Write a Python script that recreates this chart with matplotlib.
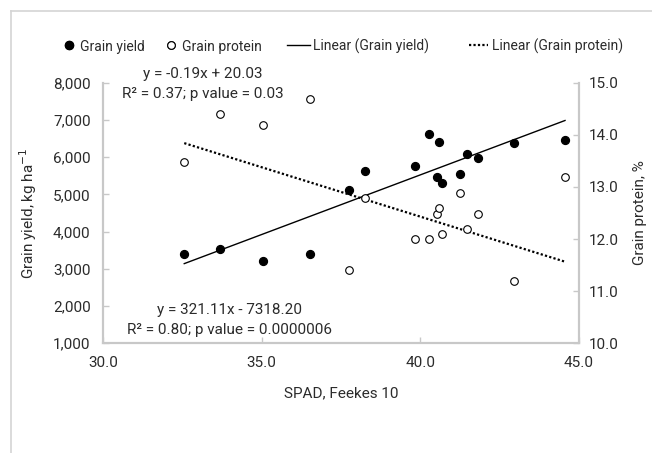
import numpy as np
import matplotlib.pyplot as plt
from matplotlib.lines import Line2D
from matplotlib.ticker import FuncFormatter, FormatStrFormatter

plt.rcParams['font.family'] = ['Roboto', 'DejaVu Sans']

# SPAD readings at Feekes 10 with grain yield and grain protein
spad = [32.56, 33.70, 35.05, 36.51, 37.75, 38.26, 39.84, 40.26,
        40.53, 40.58, 40.69, 41.26, 41.48, 41.83, 42.94, 44.56]
grain_yield = [3396, 3522, 3216, 3396, 5119, 5631, 5765, 6635,
               5478, 6411, 5317, 5550, 6088, 5981, 6394, 6465]
grain_protein = [13.49, 14.40, 14.19, 14.69, 11.40, 12.79, 12.00, 12.00,
                 12.49, 12.59, 12.09, 12.89, 12.20, 12.49, 11.20, 13.20]

# fitted trend lines (slope, intercept)
yield_fit = (321.11, -7318.20)
protein_fit = (-0.19, 20.03)

text_col = '#2b2b2b'
axis_col = '#c8c8c8'
W, H = 652, 453

fig = plt.figure(figsize=(W / 100, H / 100), dpi=100)
ax = fig.add_axes([0.158, 0.2428, 0.730, 0.574])
ax2 = ax.twinx()

# scatter points
ax.scatter(spad, grain_yield, s=32, color='black', zorder=3)
ax2.scatter(spad, grain_protein, s=30, facecolor='white', edgecolor='black',
            linewidth=0.8, zorder=3)

# trend lines
xs = np.array([min(spad), max(spad)])
ax.plot(xs, yield_fit[0] * xs + yield_fit[1], color='black', lw=1)
ax2.plot(xs, protein_fit[0] * xs + protein_fit[1], color='black', lw=1.6,
         linestyle=(0, (1, 1)))

ax.set_xlim(30, 45)
ax.set_ylim(1000, 8000)
ax2.set_ylim(10, 15)
ax.set_xticks([30, 35, 40, 45])
ax.set_yticks(range(1000, 8001, 1000))
ax2.set_yticks([10, 11, 12, 13, 14, 15])
ax.xaxis.set_major_formatter(FormatStrFormatter('%.1f'))
ax.yaxis.set_major_formatter(FuncFormatter(lambda v, p: f'{int(v):,}'))
ax2.yaxis.set_major_formatter(FormatStrFormatter('%.1f'))

for a in (ax, ax2):
    for s in a.spines.values():
        s.set_color(axis_col)
        s.set_linewidth(1.5)
    a.spines['top'].set_visible(False)
    a.tick_params(direction='in', length=4, width=1, color=axis_col,
                  labelsize=11, labelcolor=text_col)
ax.tick_params(axis='y', pad=9)
ax.tick_params(axis='x', pad=9)
ax2.tick_params(axis='y', pad=7)

ax.set_xlabel('SPAD, Feekes 10', fontsize=11, color=text_col, va='top')
ax.set_ylabel('Grain yield, kg ha$^{-1}$', fontsize=11, color=text_col)
ax2.set_ylabel('Grain protein, %', fontsize=11, color=text_col)
ax.xaxis.set_label_coords(0.5, -0.165)
ax.yaxis.set_label_coords(-0.134, 0.5)
ax2.yaxis.set_label_coords(1.113, 0.5)

# regression equations
ax.text(0.21, 1.035, 'y = -0.19x + 20.03', transform=ax.transAxes,
        ha='center', va='center', fontsize=11, color=text_col)
ax.text(0.21, 0.958, 'R² = 0.37; p value = 0.03', transform=ax.transAxes,
        ha='center', va='center', fontsize=11, color=text_col)
ax.text(0.265, 0.127, 'y = 321.11x - 7318.20', transform=ax.transAxes,
        ha='center', va='center', fontsize=11, color=text_col)
ax.text(0.265, 0.05, 'R² = 0.80; p value = 0.0000006', transform=ax.transAxes,
        ha='center', va='center', fontsize=11, color=text_col)

# legend row above the plot, laid out in pixels
def fx(px):
    return px / W

ly = 1 - 45 / H
legend_items = [
    # (handle x-range in px, text start in px, label, line kwargs)
    ((69, 69), 80, 'Grain yield',
     dict(marker='o', color='black', linestyle='none', markersize=5.8)),
    ((171, 171), 182, 'Grain protein',
     dict(marker='o', markerfacecolor='white', markeredgecolor='black',
          markeredgewidth=0.8, linestyle='none', markersize=5.5)),
    ((287, 310), 313, 'Linear (Grain yield)',
     dict(color='black', lw=1)),
    ((469, 488), 492, 'Linear (Grain protein)',
     dict(color='black', lw=1.6, linestyle=(0, (1, 1)))),
]
for (x0, x1), tx, label, kw in legend_items:
    fig.add_artist(Line2D([fx(x0), fx(x1)], [ly, ly],
                          transform=fig.transFigure, **kw))
    fig.text(fx(tx), ly, label, ha='left', va='center_baseline',
             fontsize=10, color=text_col)

# outer frame (top and left edges)
fig.add_artist(Line2D([fx(11), 1], [1 - 11 / H] * 2,
                      transform=fig.transFigure, color='#d4d4d4', lw=1.2))
fig.add_artist(Line2D([fx(11)] * 2, [0, 1 - 11 / H],
                      transform=fig.transFigure, color='#d4d4d4', lw=1.2))

fig.savefig('out.png', dpi=100)
